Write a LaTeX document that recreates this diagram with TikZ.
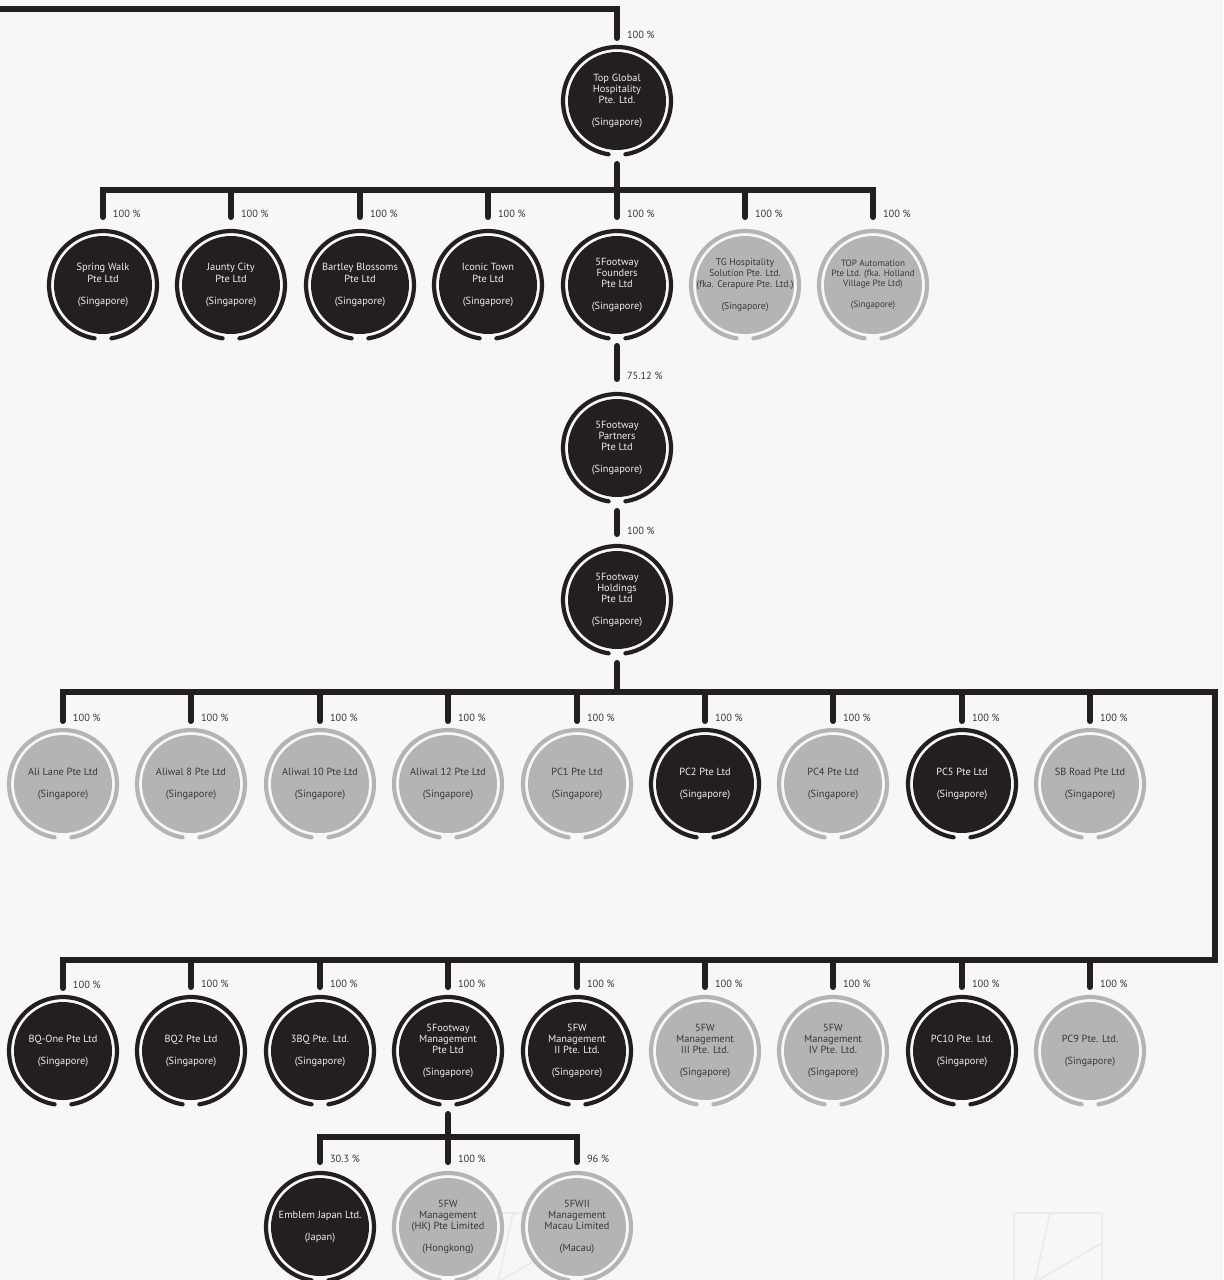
\documentclass[tikz,border=0pt]{standalone}
\usepackage{fontspec}
\setmainfont{PT Sans}
\usetikzlibrary{backgrounds}

\definecolor{ink}{HTML}{231F20}
\definecolor{haze}{HTML}{B4B4B6}
\definecolor{paper}{HTML}{F7F7F7}
\definecolor{inktext}{HTML}{EEEEEE}
\definecolor{hazetext}{HTML}{383838}
\definecolor{ghost}{HTML}{EAEAEA}

\newcommand{\firmfont}{\fontsize{5.9}{6.35}\selectfont}
\newcommand{\incorp}[2]{#1\\[6.2pt](#2)}

\tikzset{
  firm/.style={circle, inner sep=-0.5cm, outer sep=0pt, minimum size=1.96cm, align=center, font=\firmfont},
  owned/.style={firm, fill=ink, text=inktext},
  minor/.style={firm, fill=haze, text=hazetext},
  ring/.style={line width=0.084cm, line cap=round},
  link/.style={draw=ink, line width=0.12cm, line cap=round},
  pct/.style={anchor=west, inner sep=0pt, font=\firmfont, text=hazetext, xshift=0.14cm, yshift=0.06cm}
}

\begin{document}
\begin{tikzpicture}[x=0.02cm, y=-0.02cm]
  \useasboundingbox (0,0) rectangle (1223,1280);
  \fill[paper] (0,0) rectangle (1223,1280);
  % faint marks behind the last row
  \foreach \wx in {477,1014}
    \draw[ghost, line width=0.03cm] (\wx,1285) |- (\wx+88,1213) -- (\wx+88,1285)
      (\wx+36,1213) -- (\wx+21,1282) -- (\wx+88,1243);

  \node[owned] (tgh) at (617,101) {\incorp{Top Global\\Hospitality\\Pte. Ltd.}{Singapore}};

  % first level
  \node[owned] (sw)  at (103,285) {\incorp{Spring Walk\\Pte Ltd}{Singapore}};
  \node[owned] (jc)  at (231,285) {\incorp{Jaunty City\\Pte Ltd}{Singapore}};
  \node[owned] (bb)  at (360,285) {\incorp{Bartley Blossoms\\Pte Ltd}{Singapore}};
  \node[owned] (it)  at (488,285) {\incorp{Iconic Town\\Pte Ltd}{Singapore}};
  \node[owned] (ff)  at (617,285) {\incorp{5Footway\\Founders\\Pte Ltd}{Singapore}};
  \node[minor, font=\fontsize{5.5}{6.35}\selectfont] (tgs) at (745,285) {\incorp{TG Hospitality\\Solution Pte. Ltd.\\(fka. Cerapure Pte. Ltd.)}{Singapore}};
  \node[minor, font=\fontsize{5.2}{5.8}\selectfont] (ta) at (873,285) {\incorp{TOP Automation\\Pte Ltd. (fka. Holland\\Village Pte Ltd)}{Singapore}};

  \node[owned] (fp) at (617,448) {\incorp{5Footway\\Partners\\Pte Ltd}{Singapore}};
  \node[owned] (fh) at (617,600) {\incorp{5Footway\\Holdings\\Pte Ltd}{Singapore}};

  % holdings, upper row
  \node[minor] (al)   at (63,784)   {\incorp{Ali Lane Pte Ltd}{Singapore}};
  \node[minor] (aw8)  at (191,784)  {\incorp{Aliwal 8 Pte Ltd}{Singapore}};
  \node[minor] (aw10) at (320,784)  {\incorp{Aliwal 10 Pte Ltd}{Singapore}};
  \node[minor] (aw12) at (448,784)  {\incorp{Aliwal 12 Pte Ltd}{Singapore}};
  \node[minor] (pc1)  at (577,784)  {\incorp{PC1 Pte Ltd}{Singapore}};
  \node[owned] (pc2)  at (705,784)  {\incorp{PC2 Pte Ltd}{Singapore}};
  \node[minor] (pc4)  at (833,784)  {\incorp{PC4 Pte Ltd}{Singapore}};
  \node[owned] (pc5)  at (962,784)  {\incorp{PC5 Pte Ltd}{Singapore}};
  \node[minor] (sbr)  at (1090,784) {\incorp{SB Road Pte Ltd}{Singapore}};

  % holdings, lower row
  \node[owned] (bq1)  at (63,1051)   {\incorp{BQ-One Pte Ltd}{Singapore}};
  \node[owned] (bq2)  at (191,1051)  {\incorp{BQ2 Pte Ltd}{Singapore}};
  \node[owned] (bq3)  at (320,1051)  {\incorp{3BQ Pte. Ltd.}{Singapore}};
  \node[owned] (fm)   at (448,1051)  {\incorp{5Footway\\Management\\Pte Ltd}{Singapore}};
  \node[owned] (fm2)  at (577,1051)  {\incorp{5FW\\Management\\II Pte. Ltd.}{Singapore}};
  \node[minor] (fm3)  at (705,1051)  {\incorp{5FW\\Management\\III Pte. Ltd.}{Singapore}};
  \node[minor] (fm4)  at (833,1051)  {\incorp{5FW\\Management\\IV Pte. Ltd.}{Singapore}};
  \node[owned] (pc10) at (962,1051)  {\incorp{PC10 Pte. Ltd.}{Singapore}};
  \node[minor] (pc9)  at (1090,1051) {\incorp{PC9 Pte. Ltd.}{Singapore}};

  % management
  \node[owned] (ej)  at (320,1227) {\incorp{Emblem Japan Ltd.}{Japan}};
  \node[minor] (fhk) at (448,1227) {\incorp{5FW\\Management\\(HK) Pte Limited}{Hongkong}};
  \node[minor] (fmc) at (577,1227) {\incorp{5FWII\\Management\\Macau Limited}{Macau}};

  % rings
  \foreach \n in {tgh,sw,jc,bb,it,ff,fp,fh,pc2,pc5,bq1,bq2,bq3,fm,fm2,pc10,ej}
    \draw[ring, ink] ([shift={(-81:1.08cm)}]\n.center) arc[start angle=-81, end angle=261, radius=1.08cm];
  \foreach \n in {tgs,ta,al,aw8,aw10,aw12,pc1,pc4,sbr,fm3,fm4,pc9,fhk,fmc}
    \draw[ring, haze] ([shift={(-81:1.08cm)}]\n.center) arc[start angle=-81, end angle=261, radius=1.08cm];

  % links
  \coordinate (bus0) at (0,9);
  \coordinate (bus1) at (617,190);
  \coordinate (bus2) at (617,692);
  \coordinate (bend1) at (1215,692);
  \coordinate (bend2) at (1215,960);
  \coordinate (bus3) at (448,1137);

  \draw[link] (bus0) -| node[pct, pos=1] {100 \%} ([yshift=0.28cm]tgh.north);
  \draw[link] ([yshift=-0.28cm]tgh.south) -- (bus1);
  \foreach \c in {sw,jc,bb,it,ff,tgs,ta}
    \draw[link] (bus1) -| node[pct, pos=1] {100 \%} ([yshift=0.38cm]\c.north);

  \draw[link] ([yshift=-0.24cm]ff.south) -- node[pct, pos=1] {75.12 \%} ([yshift=0.40cm]fp.north);
  \draw[link] ([yshift=-0.28cm]fp.south) -- node[pct, pos=1] {100 \%} ([yshift=0.34cm]fh.north);

  \draw[link] ([yshift=-0.28cm]fh.south) -- (bus2);
  \draw[link] (bus2) -- (bend1) -- (bend2) -| node[pct, pos=1] {100 \%} ([yshift=0.28cm]bq1.north);
  \foreach \c in {al,aw8,aw10,aw12,pc1,pc2,pc4,pc5,sbr}
    \draw[link] (bus2) -| node[pct, pos=1] {100 \%} ([yshift=0.28cm]\c.north);
  \foreach \c in {bq2,bq3,fm,fm2,fm3,fm4,pc10,pc9}
    \draw[link] (bend2) -| node[pct, pos=1] {100 \%} ([yshift=0.30cm]\c.north);

  \draw[link] ([yshift=-0.28cm]fm.south) -- (bus3);
  \foreach \c/\p in {ej/30.3,fhk/100,fmc/96}
    \draw[link] (bus3) -| node[pct, pos=1] {\p{} \%} ([yshift=0.32cm]\c.north);
\end{tikzpicture}
\end{document}
